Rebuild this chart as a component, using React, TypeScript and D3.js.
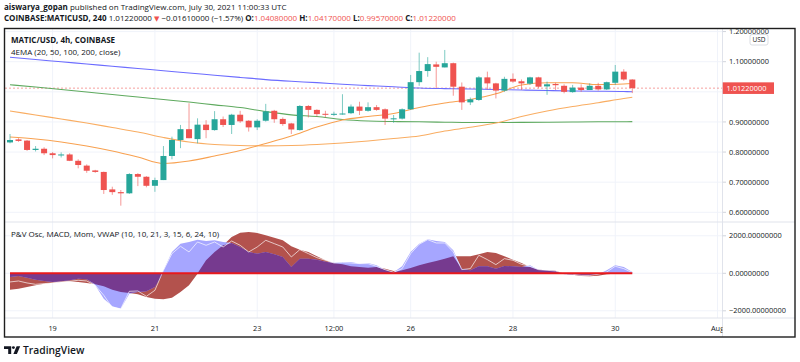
import * as d3 from "d3";

// 4h candles, first one opens 2021-07-18 04:00 UTC
const candleStart = "2021-07-18T04:00:00Z";
const opens = [
  0.832, 0.842, 0.838, 0.807, 0.811, 0.796, 0.790, 0.792, 0.771, 0.755,
  0.739, 0.734, 0.676, 0.667, 0.663, 0.727, 0.718, 0.688, 0.707, 0.787,
  0.840, 0.876, 0.843, 0.891, 0.873, 0.909, 0.890, 0.924, 0.904, 0.882,
  0.904, 0.937, 0.910, 0.895, 0.873, 0.953, 0.940, 0.927, 0.924, 0.925,
  0.929, 0.951, 0.937, 0.949, 0.942, 0.911, 0.911, 0.942, 1.032, 1.069,
  1.091, 1.081, 1.095, 1.017, 0.965, 0.973, 1.048, 1.028, 1.004, 1.043,
  1.035, 1.027, 1.048, 1.018, 1.026, 1.020, 0.999, 1.014, 1.006, 1.020,
  1.008, 1.030, 1.067, 1.0408,
];
const highs = [
  0.860, 0.846, 0.840, 0.820, 0.816, 0.800, 0.799, 0.796, 0.776, 0.759,
  0.741, 0.735, 0.685, 0.674, 0.730, 0.730, 0.720, 0.715, 0.820, 0.851,
  0.890, 0.962, 0.912, 0.906, 0.936, 0.918, 0.927, 0.937, 0.906, 0.909,
  0.960, 0.940, 0.915, 0.897, 0.956, 0.956, 0.942, 0.937, 0.934, 0.992,
  0.958, 0.967, 0.965, 0.956, 0.945, 0.923, 0.945, 1.056, 1.130, 1.115,
  1.100, 1.139, 1.097, 1.031, 0.981, 1.052, 1.067, 1.030, 1.050, 1.061,
  1.041, 1.050, 1.050, 1.034, 1.030, 1.025, 1.023, 1.025, 1.028, 1.030,
  1.034, 1.089, 1.075, 1.0417,
];
const lows = [
  0.829, 0.834, 0.804, 0.802, 0.790, 0.779, 0.782, 0.770, 0.746, 0.731,
  0.731, 0.661, 0.658, 0.622, 0.661, 0.687, 0.683, 0.668, 0.707, 0.776,
  0.813, 0.846, 0.829, 0.846, 0.871, 0.883, 0.860, 0.897, 0.868, 0.873,
  0.901, 0.897, 0.887, 0.860, 0.871, 0.915, 0.918, 0.915, 0.920, 0.924,
  0.926, 0.923, 0.934, 0.937, 0.890, 0.897, 0.908, 0.940, 1.020, 1.050,
  1.012, 1.081, 0.987, 0.940, 0.956, 0.970, 1.008, 0.978, 1.000, 1.030,
  1.006, 1.023, 1.012, 0.990, 1.006, 0.995, 0.997, 1.000, 1.006, 1.004,
  1.006, 1.023, 1.037, 0.9957,
];
const closes = [
  0.840, 0.837, 0.807, 0.811, 0.796, 0.790, 0.792, 0.771, 0.757, 0.738,
  0.734, 0.674, 0.667, 0.663, 0.727, 0.718, 0.688, 0.707, 0.787, 0.840,
  0.876, 0.846, 0.891, 0.873, 0.909, 0.890, 0.924, 0.902, 0.882, 0.904,
  0.935, 0.909, 0.893, 0.875, 0.953, 0.940, 0.926, 0.924, 0.927, 0.928,
  0.951, 0.937, 0.949, 0.940, 0.911, 0.912, 0.942, 1.032, 1.069, 1.092,
  1.083, 1.095, 1.017, 0.965, 0.975, 1.048, 1.028, 1.004, 1.043, 1.034,
  1.028, 1.048, 1.017, 1.025, 1.022, 1.000, 1.014, 1.006, 1.020, 1.008,
  1.032, 1.067, 1.041, 1.0122,
];

// EMA samples, taken at these candle indices
const emaCandle = [0, 3, 6, 9, 12, 15, 18, 21, 24, 27, 30, 33, 36, 39, 42, 45, 48, 51, 54, 57, 60, 63, 66, 69, 72, 73];
const ema20 = [
  0.8499, 0.8433, 0.8333, 0.8201, 0.8034, 0.7835, 0.7620, 0.7703, 0.7869, 0.8051,
  0.8284, 0.8533, 0.8831, 0.9064, 0.9180, 0.9280, 0.9479, 0.9628, 0.9744, 0.9934,
  1.0226, 1.0299, 1.0299, 1.0242, 1.0259, 1.0276,
];
const ema50 = [
  0.9363, 0.9230, 0.9097, 0.8964, 0.8815, 0.8665, 0.8483, 0.8333, 0.8250, 0.8217,
  0.8207, 0.8217, 0.8250, 0.8300, 0.8367, 0.8450, 0.8533, 0.8699, 0.8821, 0.8964,
  0.9180, 0.9363, 0.9512, 0.9638, 0.9778, 0.9818,
];
const ema100 = [
  1.0236, 1.0159, 1.0076, 0.9993, 0.9910, 0.9827, 0.9744, 0.9661, 0.9568, 0.9479,
  0.9346, 0.9236, 0.9180, 0.9080, 0.9031, 0.9014, 0.9004, 0.8991, 0.8981, 0.8981,
  0.8987, 0.8991, 0.8997, 0.9004, 0.9007, 0.9011,
];
const ema200 = [
  1.1149, 1.1072, 1.0999, 1.0923, 1.0850, 1.0774, 1.0701, 1.0624, 1.0551, 1.0478,
  1.0405, 1.0349, 1.0305, 1.0249, 1.0206, 1.0166, 1.0126, 1.0106, 1.0093, 1.0076,
  1.0060, 1.0043, 1.0027, 1.0020, 1.0010, 1.0003,
];

// lower pane, one value per candle
const oscBrown = [
  -871, -818, -729, -640, -551, -498, -462, -427, -462, -516,
  -587, -693, -871, -996, -1049, -1120, -1262, -1351, -1387, -1298,
  -996, -640, -18, 693, 1138, 1493, 1938, 2169, 2205, 2151,
  2027, 1902, 1760, 1440, 1262, 1138, 907, 693,
  551, 480, 373, 338, 302, 338, 249, 124, 160, 284,
  427, 551, 658, 782, 907, 907, 907, 1013, 1138, 1085,
  907, 729, 551, 338, 196, 160, 142, -18, -71, -142,
  -160, -124, -53, -18, 18, 0,
];
const oscBlue = [
  -196, -142, -231, -338, -409, -462, -427, -373, -284, -320,
  -640, -1351, -1760, -1885, -1085, -996, -960, -729, 160, 1138,
  1582, 1671, 1796, 1725, 1760, 1671, 1618, 1404, 1138, 1049,
  1138, 1013, 871, 338, 782, 782, 729, 622,
  569, 604, 604, 516, 551, 427, 196, 53, 373, 1138,
  1582, 1814, 1725, 1671, 1227, 249, 160, 373, 373, 249,
  391, 373, 338, 427, 196, 160, 124, -53, -71, -107,
  -107, -53, 160, 427, 338, 71,
];
const oscWhite = [
  -462, -409, -516, -587, -551, -516, -462, -427, -373, -409,
  -640, -1173, -1831, -1885, -960, -942, -1227, -907, 160, 1049,
  1440, 1138, 1671, 1493, 1671, 1404, 1724, 1493, 1138, 1404,
  1760, 1582, 1404, 871, 1262, 1049, 836, 693,
  551, 569, 551, 516, 516, 373, 196, 53, 249, 1049,
  1547, 1796, 1618, 1618, 1138, 196, 249, 960, 729, 462,
  782, 693, 480, 373, 196, 160, 124, -18, -53, -107,
  -107, -53, 71, 373, 249, 36,
];

const priceTicks = [1.2, 1.1, 1.0, 0.9, 0.8, 0.7, 0.6];
const oscTicks = [2000, 0, -2000];
const timeTicks = [
  "2021-07-19T00:00:00Z", "2021-07-21T00:00:00Z", "2021-07-23T00:00:00Z", "2021-07-24T12:00:00Z",
  "2021-07-26T00:00:00Z", "2021-07-28T00:00:00Z", "2021-07-30T00:00:00Z", "2021-08-01T00:00:00Z",
];
const timeTickLabels = ["19", "21", "23", "12:00", "26", "28", "30", "Aug"];
const lastPrice = 1.0122;

const FONT = "'Open Sans', 'Noto Sans', sans-serif";
const TXT = "#131722";
const UP = "#26a69a";
const DOWN = "#ef5350";
const GRID = "#f0f3fa";

// layout
const paneL = 5;
const paneR = 722.5;
const priceTop = 28.5;
const priceBottom = 222;
const oscBottom = 318;
const frameBottom = 337;
const frameRight = 795;

export default function App() {
  const t0 = new Date(candleStart).getTime();
  const times = closes.map((_, i) => new Date(t0 + i * 4 * 3600 * 1000));

  const x = d3.scaleUtc().domain([times[0], times[times.length - 1]]).range([10, 632.3]);
  const y = d3.scaleLinear().domain([0.6, 1.1]).range([212.3, 61.7]);
  const yo = d3.scaleLinear().domain([-2000, 2000]).range([310.8, 235.8]);

  const emaLine = d3
    .line<number>()
    .x((_, i) => x(times[emaCandle[i]]))
    .y((d) => y(d))
    .curve(d3.curveMonotoneX);

  const emas = [
    { data: ema200, color: "#6c6cff" },
    { data: ema100, color: "#5faa5f" },
    { data: ema50, color: "#f9ad62" },
    { data: ema20, color: "#f8a150" },
  ];

  const oscArea = d3
    .area<number>()
    .x((_, i) => x(times[i]))
    .y0(yo(0))
    .y1((d) => yo(d));
  const oscLine = d3
    .line<number>()
    .x((_, i) => x(times[i]))
    .y((d) => yo(d));

  const overlap = oscBrown.map((a, i) => {
    const b = oscBlue[i];
    return a * b > 0 ? Math.sign(a) * Math.min(Math.abs(a), Math.abs(b)) : 0;
  });

  // the 1.0 label sits under the last-price tag, so it is not drawn
  const priceLabels = priceTicks.filter((p) => Math.abs(y(p) - y(lastPrice)) > 8);

  const bodyW = 6;

  return (
    <svg
      width={800}
      height={362}
      style={{ position: "absolute", left: 0, top: 0, display: "block", background: "#fff" }}
      fontFamily={FONT}
    >
      <defs>
        <clipPath id="pricePane">
          <rect x={paneL} y={priceTop + 0.5} width={paneR - paneL} height={priceBottom - priceTop - 0.5} />
        </clipPath>
        <clipPath id="oscPane">
          <rect x={paneL} y={priceBottom + 0.5} width={paneR - paneL} height={oscBottom - priceBottom - 1} />
        </clipPath>
        <clipPath id="priceAxis">
          <rect x={paneR} y={priceTop + 0.8} width={frameRight - paneR} height={priceBottom - priceTop} />
        </clipPath>
        <clipPath id="timeAxis">
          <rect x={paneL} y={oscBottom} width={paneR - paneL} height={frameBottom - oscBottom} />
        </clipPath>
      </defs>

      {/* header */}
      <text x={4} y={9.5} fontSize={8} fill={TXT}>
        <tspan fontWeight={700}>aiswarya_gopan</tspan> published on TradingView.com, July 30, 2021 11:00:33 UTC
      </text>
      <text x={4} y={20.5} fontSize={8} fill={TXT}>
        <tspan fontWeight={700}>COINBASE:MATICUSD, 240</tspan>
        <tspan> 1.01220000 </tspan>
        <tspan fill={DOWN} fontFamily="DejaVu Sans" fontSize={7}>▼</tspan>
        <tspan> −0.01610000 (−1.57%) </tspan>
        <tspan fontWeight={700}>O:</tspan>
        <tspan fill={DOWN}>1.04080000 </tspan>
        <tspan fontWeight={700}>H:</tspan>
        <tspan fill={DOWN}>1.04170000 </tspan>
        <tspan fontWeight={700}>L:</tspan>
        <tspan fill={DOWN}>0.99570000 </tspan>
        <tspan fontWeight={700}>C:</tspan>
        <tspan fill={DOWN}>1.01220000</tspan>
      </text>

      {/* grid */}
      {timeTicks.map((t, i) => (
        <line key={"vg" + i} x1={x(new Date(t))} x2={x(new Date(t))} y1={priceTop} y2={oscBottom} stroke={GRID} />
      ))}
      {priceTicks.map((p, i) => (
        <line key={"hg" + i} x1={paneL} x2={paneR} y1={y(p)} y2={y(p)} stroke={GRID} />
      ))}
      {oscTicks.map((v, i) => (
        <line key={"og" + i} x1={paneL} x2={paneR} y1={yo(v)} y2={yo(v)} stroke={GRID} />
      ))}

      {/* price pane */}
      <g clipPath="url(#pricePane)">
        <line
          x1={paneL}
          x2={paneR}
          y1={y(lastPrice)}
          y2={y(lastPrice)}
          stroke={DOWN}
          strokeOpacity={0.55}
          strokeDasharray="2,2"
        />
        {emas.map((e, i) => (
          <path key={"ema" + i} d={emaLine(e.data) || ""} fill="none" stroke={e.color} strokeWidth={1.1} />
        ))}
        {closes.map((c, i) => {
          const o = opens[i];
          const col = c >= o ? UP : DOWN;
          const cx = x(times[i]);
          const top = y(Math.max(o, c));
          const bot = y(Math.min(o, c));
          return (
            <g key={"c" + i}>
              <line x1={cx} x2={cx} y1={y(highs[i])} y2={y(lows[i])} stroke={col} strokeOpacity={0.6} />
              <rect x={cx - bodyW / 2} y={top} width={bodyW} height={Math.max(1, bot - top)} fill={col} />
            </g>
          );
        })}
      </g>
      <text x={11} y={43.3} fontSize={8} fontWeight={700} fill={TXT}>
        MATIC/USD, 4h, COINBASE
      </text>
      <text x={11} y={55} fontSize={8} fill={TXT}>
        4EMA (20, 50, 100, 200, close)
      </text>

      {/* oscillator pane */}
      <g clipPath="url(#oscPane)">
        <path d={oscArea(oscBrown) || ""} fill="#b3524d" />
        <path d={oscArea(oscBlue) || ""} fill="#a6a6ff" />
        <path d={oscArea(overlap) || ""} fill="#763a8f" />
        <path d={oscLine(oscWhite) || ""} fill="none" stroke="#ffffff" strokeOpacity={0.75} strokeWidth={0.9} />
        <path d={oscLine(closes.map(() => 0)) || ""} fill="none" stroke="#e8191c" strokeWidth={2} />
      </g>
      <text x={11} y={236.5} fontSize={8} fill={TXT}>
        P&amp;V Osc, MACD, Mom, VWAP (10, 10, 21, 3, 15, 6, 24, 10)
      </text>

      {/* pane separators */}
      <line x1={paneL} x2={frameRight} y1={priceBottom} y2={priceBottom} stroke="#e0e3eb" />
      <line x1={paneL} x2={frameRight} y1={oscBottom} y2={oscBottom} stroke="#e0e3eb" />
      <line x1={paneR} x2={paneR} y1={priceTop} y2={frameBottom} stroke="#e0e3eb" />

      {/* price axis */}
      <g clipPath="url(#priceAxis)">
        {priceTicks.map((p, i) => (
          <line key={"ptk" + i} x1={paneR} x2={paneR + 3.5} y1={y(p)} y2={y(p)} stroke="#d1d4dc" />
        ))}
        {priceLabels.map((p, i) => (
          <text key={"pt" + i} x={729} y={y(p) + 2.6} fontSize={7.4} fill={TXT}>
            {p.toFixed(8)}
          </text>
        ))}
        <rect x={750} y={34.5} width={18} height={10.5} rx={2} fill="#fff" stroke="#d1d4dc" strokeWidth={0.8} />
        <text x={759} y={42.2} fontSize={6.5} fill={TXT} textAnchor="middle">
          USD
        </text>
        <rect x={paneR} y={y(lastPrice) - 5.8} width={51.5} height={11.6} fill={DOWN} />
        <text x={726.5} y={y(lastPrice) + 2.6} fontSize={7.4} fill="#fff">
          {lastPrice.toFixed(8)}
        </text>
      </g>

      {/* oscillator axis */}
      {oscTicks.map((v, i) => (
        <g key={"ot" + i}>
          <line x1={paneR} x2={paneR + 3.5} y1={yo(v)} y2={yo(v)} stroke="#d1d4dc" />
          <text x={729} y={yo(v) + 2.6} fontSize={7.4} fill={TXT}>
            {(v < 0 ? "−" : "") + Math.abs(v).toFixed(8)}
          </text>
        </g>
      ))}

      {/* time axis */}
      <g clipPath="url(#timeAxis)">
        {timeTicks.map((t, i) => (
          <text key={"tt" + i} x={x(new Date(t))} y={330.7} fontSize={7.4} fill={TXT} textAnchor="middle">
            {timeTickLabels[i]}
          </text>
        ))}
      </g>

      {/* frame */}
      <rect
        x={4.5}
        y={priceTop}
        width={frameRight - 4.5}
        height={frameBottom - priceTop}
        fill="none"
        stroke="#1e1e1e"
        strokeWidth={1.4}
      />

      {/* TradingView logo */}
      <g fill="#131722">
        <path d="M4 346.2 H11.2 V354 H8.2 V348.9 H4 Z" />
        <circle cx={13.4} cy={347.6} r={1.45} />
        <path d="M16.6 346.2 H20.2 L16.9 354 H13.4 Z" />
      </g>
      <text x={23} y={354} fontSize={10.3} fontWeight={600} fill="#131722">
        TradingView
      </text>
    </svg>
  );
}
